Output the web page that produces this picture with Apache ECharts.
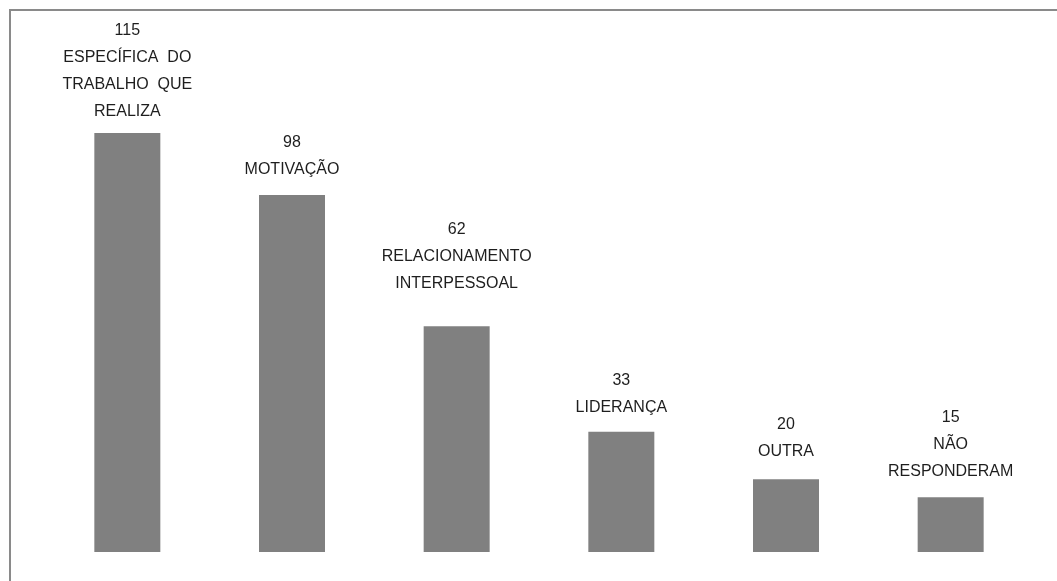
<!DOCTYPE html>
<html>
<head>
<meta charset="utf-8">
<script src="https://cdn.jsdelivr.net/npm/echarts@6/dist/echarts.min.js"></script>
<style>
    html, body { margin: 0; padding: 0; background: #fff; }
    #main { width: 1057px; height: 581px; }
</style>
</head>
<body>
<div id="main"></div>
<script>
    var categories = [
        'ESPECÍFICA  DO\nTRABALHO  QUE\nREALIZA',
        'MOTIVAÇÃO',
        'RELACIONAMENTO\nINTERPESSOAL',
        'LIDERANÇA',
        'OUTRA',
        'NÃO\nRESPONDERAM'
    ];
    var values = [115, 98, 62, 33, 20, 15];

    // labels were placed by hand in the original, so gaps differ a bit
    var labelGap = [8, 12, 29, 11, 14, 12];

    var myChart = echarts.init(document.getElementById('main'));
    var option = {
        backgroundColor: '#fff',
        animation: false,
        grid: { left: 45, right: 24, top: 42, bottom: 29 },
        graphic: [{
            type: 'rect',
            shape: { x: 10, y: 10, width: 2000, height: 2000 },
            style: { fill: 'none', stroke: '#8a8a8a', lineWidth: 2 }
        }],
        xAxis: {
            type: 'category',
            data: categories,
            show: false
        },
        yAxis: {
            type: 'value',
            min: 0,
            max: 140,
            show: false,
            splitLine: { show: false }
        },
        series: [{
            type: 'bar',
            data: values.map(function (v, i) {
                return { value: v, label: { distance: labelGap[i] } };
            }),
            barWidth: 66,
            itemStyle: { color: '#808080' },
            label: {
                show: true,
                position: 'top',
                formatter: '{c}\n{b}',
                color: '#1e1e1e',
                fontFamily: 'Liberation Sans',
                fontSize: 16,
                lineHeight: 27,
                align: 'center'
            }
        }]
    };
    option && myChart.setOption(option);
</script>
</body>
</html>
